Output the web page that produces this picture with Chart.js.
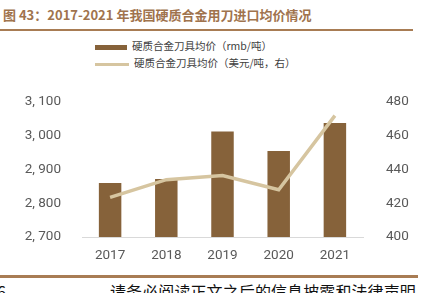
<!DOCTYPE html>
<html>
<head>
<meta charset="utf-8">
<script src="https://cdn.jsdelivr.net/npm/chart.js@4"></script>
<style>
  body { margin:0; width:422px; height:293px; overflow:hidden; background:#fff; position:relative; font-family:"Noto Sans CJK SC", sans-serif; }
  .abs { position:absolute; }
  #titulo { left:3px; top:5px; font-size:13px; font-weight:bold; color:#a0734d; white-space:nowrap; }
  #linea-top { left:0; top:29px; width:413px; height:2px; background:#a87c54; }
  #linea-bot { left:0; top:275px; width:418px; height:3px; background:#a87c54; }
  #pie { left:110px; top:279px; font-size:16px; color:#111; white-space:nowrap; letter-spacing:0.1px; }
  #pag { left:-3px; top:279px; font-size:16px; color:#111; }
  .leyenda { left:95px; font-size:10.5px; color:#404040; white-space:nowrap; }
  .sw { display:inline-block; vertical-align:middle; margin-right:5px; }
  #grafico { left:0; top:90px; }
</style>
</head>
<body>
<div id="titulo" class="abs">图 43：2017-2021 年我国硬质合金用刀进口均价情况</div>
<div id="linea-top" class="abs"></div>
<div class="abs leyenda" style="top:38px"><span class="sw" style="width:32px;height:5px;background:#86623a"></span>硬质合金刀具均价（rmb/吨）</div>
<div class="abs leyenda" style="top:55px"><span class="sw" style="width:34px;height:3px;background:#d6c5a0"></span>硬质合金刀具均价（美元/吨，右）</div>
<canvas id="grafico" class="abs" width="422" height="180"></canvas>
<div id="linea-bot" class="abs"></div>
<div id="pag" class="abs">6</div>
<div id="pie" class="abs">请务必阅读正文之后的信息披露和法律声明</div>
<script>
// datos
const anios = ['2017', '2018', '2019', '2020', '2021'];
const precioRmb = [2860, 2872, 3013, 2955, 3038];
const precioUsd = [423.5, 434, 436.5, 428, 472];
const ticksIzq = [2700, 2800, 2900, 3000, 3100];
const ticksDer = [400, 420, 440, 460, 480];

const fmt = v => {
    const s = String(v);
    return s.length > 3 ? s.slice(0, -3) + ', ' + s.slice(-3) : s;
};

const fuenteEje = { family: 'Roboto, "Noto Sans", sans-serif', size: 13.5 };
// marcas de tick invisibles, solo para separar las etiquetas del área
const gridOculto = len => ({ display: true, drawOnChartArea: false, drawTicks: true, tickLength: len, color: 'rgba(0,0,0,0)' });

new Chart(document.getElementById('grafico'), {
    type: 'bar',
    data: {
        labels: anios,
        datasets: [
            { type: 'line', label: '硬质合金刀具均价（美元/吨，右）', data: precioUsd, yAxisID: 'y1',
              borderColor: '#d6c5a0', borderWidth: 3.5, pointRadius: 0, tension: 0, order: 0 },
            { type: 'bar', label: '硬质合金刀具均价（rmb/吨）', data: precioRmb, yAxisID: 'y',
              backgroundColor: '#86623a', barPercentage: 0.4, categoryPercentage: 1, order: 1 }
        ]
    },
    options: {
        responsive: false, animation: false,
        layout: { padding: { top: 0, bottom: 8, left: 0, right: 9 } },
        plugins: { legend: { display: false }, tooltip: { enabled: false } },
        scales: {
            x: {
                grid: { display: false },
                border: { display: true, color: '#d9d9d9', width: 1 },
                ticks: { color: '#595959', font: fuenteEje, padding: 3 },
                afterFit: s => { s.height = 25; }
            },
            y: {
                position: 'left', min: 2700, max: 3100,
                afterBuildTicks: s => { s.ticks = ticksIzq.map(v => ({ value: v })); },
                grid: gridOculto(17),
                border: { display: false },
                ticks: { color: '#595959', font: fuenteEje, padding: 4, callback: v => fmt(v) },
                afterFit: s => { s.width = 82; }
            },
            y1: {
                position: 'right', min: 400, max: 480,
                afterBuildTicks: s => { s.ticks = ticksDer.map(v => ({ value: v })); },
                grid: gridOculto(19),
                border: { display: false },
                ticks: { color: '#595959', font: fuenteEje, padding: 4 },
                afterFit: s => { s.width = 50; }
            }
        }
    }
});
</script>
</body>
</html>
